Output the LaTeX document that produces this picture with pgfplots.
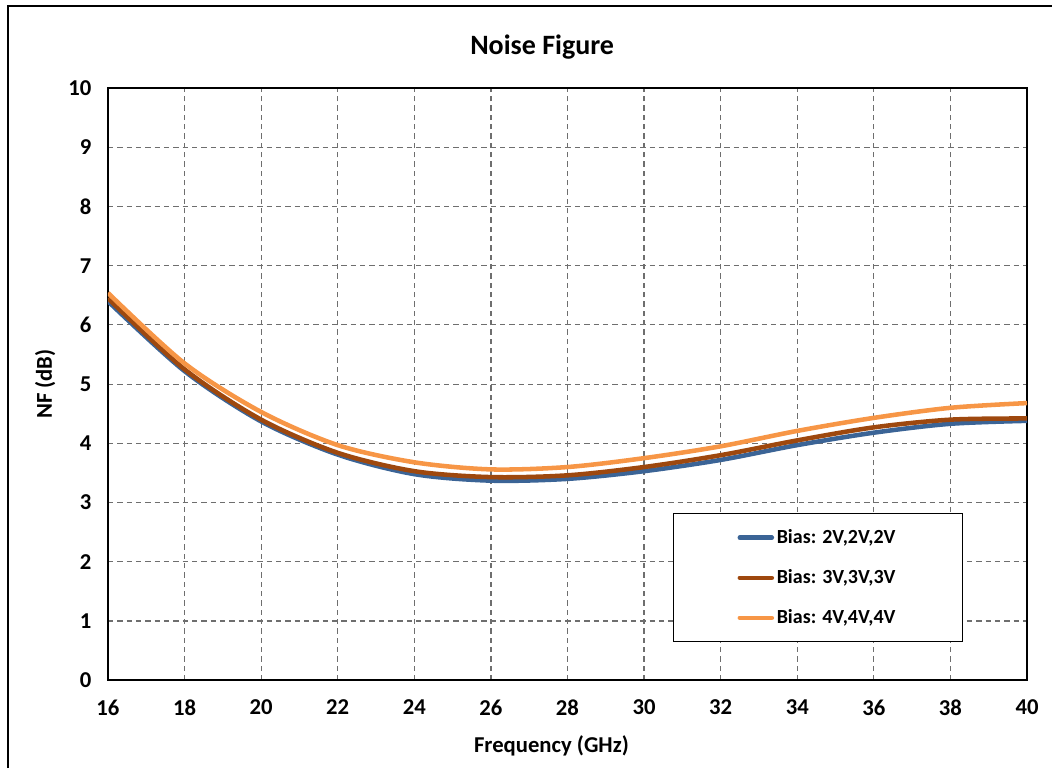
\documentclass[border=0pt]{standalone}
\usepackage{fontspec}
\setmainfont{Carlito}
\usepackage{pgfplots}
\pgfplotsset{compat=1.18}

\definecolor{bias2}{RGB}{59,100,150}
\definecolor{bias3}{RGB}{158,72,14}
\definecolor{bias4}{RGB}{247,150,70}
\definecolor{gridgray}{RGB}{110,110,110}

\begin{document}
\begin{tikzpicture}
\begin{axis}[
    scale only axis,
    width=689pt, height=444pt,
    xmin=16, xmax=40, ymin=0, ymax=10,
    xtick={16,18,...,40}, ytick={0,1,...,10},
    major tick length=0pt,
    axis line style={black, line width=1.5pt},
    grid=major,
    major grid style={gridgray, line width=0.9pt, dash pattern=on 4pt off 3pt},
    font=\fontsize{17}{20}\selectfont\bfseries,
    /pgf/number format/assume math mode=true,
    xticklabel style={yshift=-11pt},
    yticklabel style={xshift=-9pt},
    title={\fontsize{21}{24}\selectfont\bfseries Noise Figure},
    title style={at={(0.5,1)}, anchor=center, yshift=25pt, xshift=-19pt},
    xlabel={Frequency (GHz)},
    xlabel style={at={(0.5,0)}, anchor=center, yshift=-49pt, xshift=-12pt},
    ylabel={NF (dB)},
    ylabel style={at={(0,0.5)}, anchor=center, rotate=0, yshift=47pt},
    legend style={at={(0.6148,0.2821)}, anchor=north west, draw=black,
        line width=0.8pt, inner xsep=48pt, inner ysep=10pt, row sep=14pt,
        font=\fontsize{15}{18}\selectfont\bfseries},
    legend cell align=left,
    legend image code/.code={\draw[#1, line cap=round] (0pt,0pt) -- (24pt,0pt);},
]
\addplot[bias2, line width=3.4pt, smooth] coordinates {
    (16,6.40) (18,5.22) (20,4.37) (22,3.81) (24,3.48) (26,3.37) (28,3.40)
    (30,3.53) (32,3.72) (34,3.97) (36,4.18) (38,4.33) (40,4.38)
};
\addplot[bias3, line width=3.4pt, smooth] coordinates {
    (16,6.45) (18,5.25) (20,4.40) (22,3.84) (24,3.53) (26,3.43) (28,3.46)
    (30,3.60) (32,3.80) (34,4.05) (36,4.27) (38,4.40) (40,4.42)
};
\addplot[bias4, line width=3.4pt, smooth] coordinates {
    (16,6.54) (18,5.35) (20,4.53) (22,3.97) (24,3.68) (26,3.56) (28,3.60)
    (30,3.75) (32,3.95) (34,4.21) (36,4.43) (38,4.60) (40,4.68)
};
\legend{{Bias: 2V,2V,2V}, {Bias: 3V,3V,3V}, {Bias: 4V,4V,4V}}
\coordinate (bl) at (rel axis cs:-0.1175,-0.1486);
\coordinate (tr) at (rel axis cs:1.0272,1.1486);
\coordinate (fl) at (rel axis cs:-0.1088,1.1385);
\end{axis}
\pgfresetboundingbox
\useasboundingbox (bl) rectangle (tr);
\draw[black, line width=2.2pt] (fl |- bl) -- (fl) -- (fl -| tr);
\end{tikzpicture}
\end{document}
